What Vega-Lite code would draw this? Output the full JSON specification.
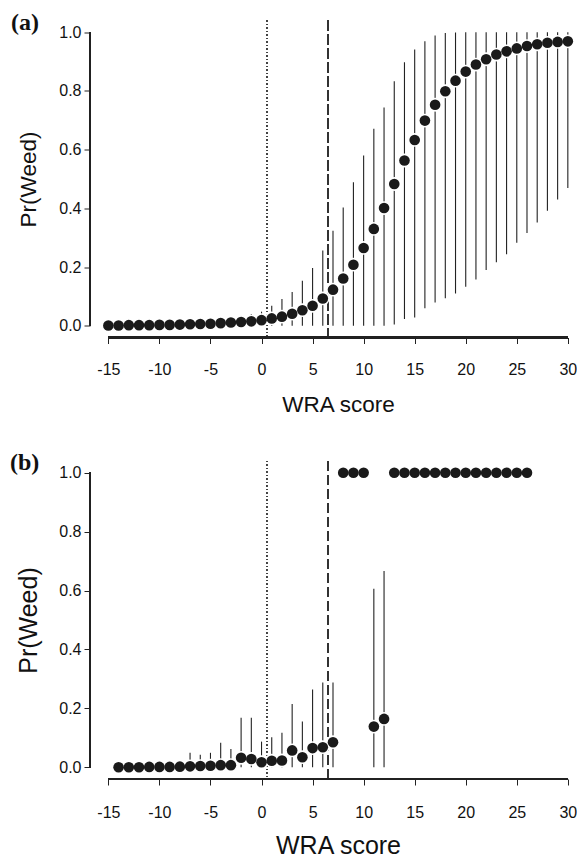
{
  "$schema": "https://vega.github.io/schema/vega-lite/v6.json",
  "background": "white",
  "padding": {"left": 10, "top": 10.5, "right": 0, "bottom": 0},
  "autosize": {"type": "pad"},
  "config": {"view": {"stroke": null}, "font": "Liberation Sans"},
  "datasets": {
    "a": [
      {"x": -15, "p": 0.001, "lo": 0, "hi": 0.004},
      {"x": -14, "p": 0.001, "lo": 0, "hi": 0.005},
      {"x": -13, "p": 0.002, "lo": 0, "hi": 0.006},
      {"x": -12, "p": 0.002, "lo": 0, "hi": 0.007},
      {"x": -11, "p": 0.002, "lo": 0, "hi": 0.008},
      {"x": -10, "p": 0.003, "lo": 0, "hi": 0.010},
      {"x": -9, "p": 0.003, "lo": 0, "hi": 0.011},
      {"x": -8, "p": 0.004, "lo": 0, "hi": 0.013},
      {"x": -7, "p": 0.005, "lo": 0, "hi": 0.015},
      {"x": -6, "p": 0.006, "lo": 0, "hi": 0.018},
      {"x": -5, "p": 0.007, "lo": 0, "hi": 0.021},
      {"x": -4, "p": 0.009, "lo": 0, "hi": 0.025},
      {"x": -3, "p": 0.011, "lo": 0, "hi": 0.029},
      {"x": -2, "p": 0.013, "lo": 0, "hi": 0.034},
      {"x": -1, "p": 0.015, "lo": 0, "hi": 0.040},
      {"x": 0, "p": 0.019, "lo": 0, "hi": 0.048},
      {"x": 1, "p": 0.025, "lo": 0, "hi": 0.068},
      {"x": 2, "p": 0.031, "lo": 0, "hi": 0.091},
      {"x": 3, "p": 0.041, "lo": 0, "hi": 0.115},
      {"x": 4, "p": 0.053, "lo": 0, "hi": 0.153},
      {"x": 5, "p": 0.068, "lo": 0, "hi": 0.197},
      {"x": 6, "p": 0.093, "lo": 0, "hi": 0.256},
      {"x": 7, "p": 0.123, "lo": 0, "hi": 0.324},
      {"x": 8, "p": 0.161, "lo": 0, "hi": 0.403},
      {"x": 9, "p": 0.208, "lo": 0, "hi": 0.489},
      {"x": 10, "p": 0.265, "lo": 0, "hi": 0.580},
      {"x": 11, "p": 0.330, "lo": 0, "hi": 0.671},
      {"x": 12, "p": 0.401, "lo": 0, "hi": 0.744},
      {"x": 13, "p": 0.483, "lo": 0.004, "hi": 0.833},
      {"x": 14, "p": 0.563, "lo": 0.023, "hi": 0.898},
      {"x": 15, "p": 0.633, "lo": 0.028, "hi": 0.941},
      {"x": 16, "p": 0.699, "lo": 0.060, "hi": 0.969},
      {"x": 17, "p": 0.753, "lo": 0.079, "hi": 0.989},
      {"x": 18, "p": 0.799, "lo": 0.094, "hi": 0.997},
      {"x": 19, "p": 0.835, "lo": 0.110, "hi": 0.999},
      {"x": 20, "p": 0.866, "lo": 0.133, "hi": 1.0},
      {"x": 21, "p": 0.890, "lo": 0.158, "hi": 1.0},
      {"x": 22, "p": 0.908, "lo": 0.190, "hi": 1.0},
      {"x": 23, "p": 0.924, "lo": 0.216, "hi": 1.0},
      {"x": 24, "p": 0.935, "lo": 0.244, "hi": 1.0},
      {"x": 25, "p": 0.945, "lo": 0.283, "hi": 1.0},
      {"x": 26, "p": 0.953, "lo": 0.316, "hi": 1.0},
      {"x": 27, "p": 0.959, "lo": 0.352, "hi": 1.0},
      {"x": 28, "p": 0.964, "lo": 0.392, "hi": 1.0},
      {"x": 29, "p": 0.967, "lo": 0.430, "hi": 1.0},
      {"x": 30, "p": 0.969, "lo": 0.469, "hi": 1.0}
    ],
    "b": [
      {"x": -14, "p": 0.000, "lo": 0, "hi": 0.003},
      {"x": -13, "p": 0.000, "lo": 0, "hi": 0.003},
      {"x": -12, "p": 0.000, "lo": 0, "hi": 0.004},
      {"x": -11, "p": 0.001, "lo": 0, "hi": 0.005},
      {"x": -10, "p": 0.001, "lo": 0, "hi": 0.006},
      {"x": -9, "p": 0.001, "lo": 0, "hi": 0.010},
      {"x": -8, "p": 0.002, "lo": 0, "hi": 0.015},
      {"x": -7, "p": 0.003, "lo": 0, "hi": 0.049},
      {"x": -6, "p": 0.004, "lo": 0, "hi": 0.042},
      {"x": -5, "p": 0.005, "lo": 0, "hi": 0.049},
      {"x": -4, "p": 0.007, "lo": 0, "hi": 0.083},
      {"x": -3, "p": 0.007, "lo": 0, "hi": 0.062},
      {"x": -2, "p": 0.032, "lo": 0, "hi": 0.168},
      {"x": -1, "p": 0.028, "lo": 0, "hi": 0.168},
      {"x": 0, "p": 0.017, "lo": 0, "hi": 0.087},
      {"x": 1, "p": 0.022, "lo": 0, "hi": 0.102},
      {"x": 2, "p": 0.023, "lo": 0, "hi": 0.117},
      {"x": 3, "p": 0.057, "lo": 0, "hi": 0.215},
      {"x": 4, "p": 0.034, "lo": 0, "hi": 0.155},
      {"x": 5, "p": 0.065, "lo": 0, "hi": 0.264},
      {"x": 6, "p": 0.068, "lo": 0, "hi": 0.288},
      {"x": 7, "p": 0.085, "lo": 0, "hi": 0.288},
      {"x": 8, "p": 1, "lo": 1, "hi": 1},
      {"x": 9, "p": 1, "lo": 1, "hi": 1},
      {"x": 10, "p": 1, "lo": 1, "hi": 1},
      {"x": 11, "p": 0.138, "lo": 0, "hi": 0.606},
      {"x": 12, "p": 0.164, "lo": 0, "hi": 0.666},
      {"x": 13, "p": 1, "lo": 1, "hi": 1},
      {"x": 14, "p": 1, "lo": 1, "hi": 1},
      {"x": 15, "p": 1, "lo": 1, "hi": 1},
      {"x": 16, "p": 1, "lo": 1, "hi": 1},
      {"x": 17, "p": 1, "lo": 1, "hi": 1},
      {"x": 18, "p": 1, "lo": 1, "hi": 1},
      {"x": 19, "p": 1, "lo": 1, "hi": 1},
      {"x": 20, "p": 1, "lo": 1, "hi": 1},
      {"x": 21, "p": 1, "lo": 1, "hi": 1},
      {"x": 22, "p": 1, "lo": 1, "hi": 1},
      {"x": 23, "p": 1, "lo": 1, "hi": 1},
      {"x": 24, "p": 1, "lo": 1, "hi": 1},
      {"x": 25, "p": 1, "lo": 1, "hi": 1},
      {"x": 26, "p": 1, "lo": 1, "hi": 1}
    ]
  },
  "vconcat": [
    {
      "width": 486,
      "height": 317,
      "title": {"text": "(a)", "font": "Liberation Serif", "fontWeight": "bold", "fontSize": 24, "color": "#111", "anchor": "start", "frame": "bounds", "baseline": "alphabetic", "offset": -10, "dx": -6, "dy": 24},
      "data": {"name": "a"},
      "layer": [
        {"mark": {"type": "rule", "strokeDash": [1, 2.5], "color": "#444", "strokeWidth": 1},
         "encoding": {"x": {"datum": 0.5, "type": "quantitative", "scale": {"domain": [-16.8, 30.8], "nice": false, "zero": false}}}},
        {"mark": {"type": "rule", "strokeDash": [10, 4], "color": "#333", "strokeWidth": 1.2},
         "encoding": {"x": {"datum": 6.5, "type": "quantitative", "scale": {"domain": [-16.8, 30.8], "nice": false, "zero": false}}}},
        {"mark": {"type": "rule", "color": "#222", "strokeWidth": 1.1},
         "encoding": {
           "x": {"field": "x", "type": "quantitative", "scale": {"domain": [-16.8, 30.8], "nice": false, "zero": false}},
           "y": {"field": "lo", "type": "quantitative", "scale": {"domain": [-0.04, 1.04], "nice": false, "zero": false}},
           "y2": {"field": "hi"}}},
        {"mark": {"type": "circle", "color": "white", "opacity": 1, "size": 190},
         "encoding": {
           "x": {"field": "x", "type": "quantitative", "scale": {"domain": [-16.8, 30.8], "nice": false, "zero": false}},
           "y": {"field": "p", "type": "quantitative", "scale": {"domain": [-0.04, 1.04], "nice": false, "zero": false}}}},
        {"mark": {"type": "circle", "color": "#1a1a1a", "opacity": 1, "size": 113},
         "encoding": {
           "x": {"field": "x", "type": "quantitative", "scale": {"domain": [-16.8, 30.8], "nice": false, "zero": false},
                 "axis": {"values": [-15, -10, -5, 0, 5, 10, 15, 20, 25, 30], "labelExpr": "datum.value < 0 ? '-' + abs(datum.value) : '' + datum.value", "domain": false, "grid": false, "tickSize": 6, "tickColor": "#222", "tickWidth": 1,
                          "labelFontSize": 16, "labelColor": "#111", "labelBaseline": "alphabetic", "labelPadding": 31, "labelFlush": false, "labelOverlap": false,
                          "title": "WRA score", "titleFontSize": 22.5, "titleFontWeight": "normal", "titleColor": "#111", "titleBaseline": "alphabetic", "titleX": 248, "titleY": 74, "titleAlign": "center"}},
           "y": {"field": "p", "type": "quantitative", "scale": {"domain": [-0.04, 1.04], "nice": false, "zero": false},
                 "axis": {"values": [0, 0.2, 0.4, 0.6, 0.8, 1.0], "format": ".1f", "domain": false, "grid": false, "tickSize": 6, "tickColor": "#222", "tickWidth": 1,
                          "labelFontSize": 16, "labelColor": "#111", "labelPadding": 3, "labelBaseline": "middle", "labelFlush": false, "labelOverlap": false,
                          "title": "Pr(Weed)", "titleFontSize": 22.5, "titleFontWeight": "normal", "titleColor": "#111", "titleBaseline": "alphabetic", "titleX": -55, "titleAngle": 270}}}},
        {"mark": {"type": "rule", "color": "#222", "strokeWidth": 1.5},
         "encoding": {
           "x": {"datum": -15, "type": "quantitative", "scale": {"domain": [-16.8, 30.8], "nice": false, "zero": false}},
           "x2": {"datum": 30},
           "y": {"datum": -0.04, "type": "quantitative", "scale": {"domain": [-0.04, 1.04], "nice": false, "zero": false}}}},
        {"mark": {"type": "rule", "color": "#222", "strokeWidth": 1.5},
         "encoding": {
           "x": {"datum": -16.8, "type": "quantitative", "scale": {"domain": [-16.8, 30.8], "nice": false, "zero": false}},
           "y": {"datum": 0, "type": "quantitative", "scale": {"domain": [-0.04, 1.04], "nice": false, "zero": false}},
           "y2": {"datum": 1}}}
      ]
    },
    {
      "width": 486,
      "height": 318,
      "title": {"text": "(b)", "font": "Liberation Serif", "fontWeight": "bold", "fontSize": 24, "color": "#111", "anchor": "start", "frame": "bounds", "baseline": "alphabetic", "offset": -10, "dx": -6, "dy": 24},
      "data": {"name": "b"},
      "layer": [
        {"mark": {"type": "rule", "strokeDash": [1, 2.5], "color": "#444", "strokeWidth": 1},
         "encoding": {"x": {"datum": 0.5, "type": "quantitative", "scale": {"domain": [-16.8, 30.8], "nice": false, "zero": false}}}},
        {"mark": {"type": "rule", "strokeDash": [10, 4], "color": "#333", "strokeWidth": 1.2},
         "encoding": {"x": {"datum": 6.5, "type": "quantitative", "scale": {"domain": [-16.8, 30.8], "nice": false, "zero": false}}}},
        {"mark": {"type": "rule", "color": "#222", "strokeWidth": 1.1},
         "encoding": {
           "x": {"field": "x", "type": "quantitative", "scale": {"domain": [-16.8, 30.8], "nice": false, "zero": false}},
           "y": {"field": "lo", "type": "quantitative", "scale": {"domain": [-0.04, 1.04], "nice": false, "zero": false}},
           "y2": {"field": "hi"}}},
        {"mark": {"type": "circle", "color": "white", "opacity": 1, "size": 190},
         "encoding": {
           "x": {"field": "x", "type": "quantitative", "scale": {"domain": [-16.8, 30.8], "nice": false, "zero": false}},
           "y": {"field": "p", "type": "quantitative", "scale": {"domain": [-0.04, 1.04], "nice": false, "zero": false}}}},
        {"mark": {"type": "circle", "color": "#1a1a1a", "opacity": 1, "size": 113},
         "encoding": {
           "x": {"field": "x", "type": "quantitative", "scale": {"domain": [-16.8, 30.8], "nice": false, "zero": false},
                 "axis": {"values": [-15, -10, -5, 0, 5, 10, 15, 20, 25, 30], "labelExpr": "datum.value < 0 ? '-' + abs(datum.value) : '' + datum.value", "domain": false, "grid": false, "tickSize": 6, "tickColor": "#222", "tickWidth": 1,
                          "labelFontSize": 16, "labelColor": "#111", "labelBaseline": "alphabetic", "labelPadding": 32, "labelFlush": false, "labelOverlap": false,
                          "title": "WRA score", "titleFontSize": 25, "titleFontWeight": "normal", "titleColor": "#111", "titleBaseline": "alphabetic", "titleX": 248, "titleY": 74, "titleAlign": "center"}},
           "y": {"field": "p", "type": "quantitative", "scale": {"domain": [-0.04, 1.04], "nice": false, "zero": false},
                 "axis": {"values": [0, 0.2, 0.4, 0.6, 0.8, 1.0], "format": ".1f", "domain": false, "grid": false, "tickSize": 6, "tickColor": "#222", "tickWidth": 1,
                          "labelFontSize": 16, "labelColor": "#111", "labelPadding": 3, "labelBaseline": "middle", "labelFlush": false, "labelOverlap": false,
                          "title": "Pr(Weed)", "titleFontSize": 25, "titleFontWeight": "normal", "titleColor": "#111", "titleBaseline": "alphabetic", "titleX": -54, "titleAngle": 270}}}},
        {"mark": {"type": "rule", "color": "#222", "strokeWidth": 1.5},
         "encoding": {
           "x": {"datum": -15, "type": "quantitative", "scale": {"domain": [-16.8, 30.8], "nice": false, "zero": false}},
           "x2": {"datum": 30},
           "y": {"datum": -0.04, "type": "quantitative", "scale": {"domain": [-0.04, 1.04], "nice": false, "zero": false}}}},
        {"mark": {"type": "rule", "color": "#222", "strokeWidth": 1.5},
         "encoding": {
           "x": {"datum": -16.8, "type": "quantitative", "scale": {"domain": [-16.8, 30.8], "nice": false, "zero": false}},
           "y": {"datum": 0, "type": "quantitative", "scale": {"domain": [-0.04, 1.04], "nice": false, "zero": false}},
           "y2": {"datum": 1}}}
      ]
    }
  ],
  "spacing": 123.5,
  "bounds": "flush"
}
